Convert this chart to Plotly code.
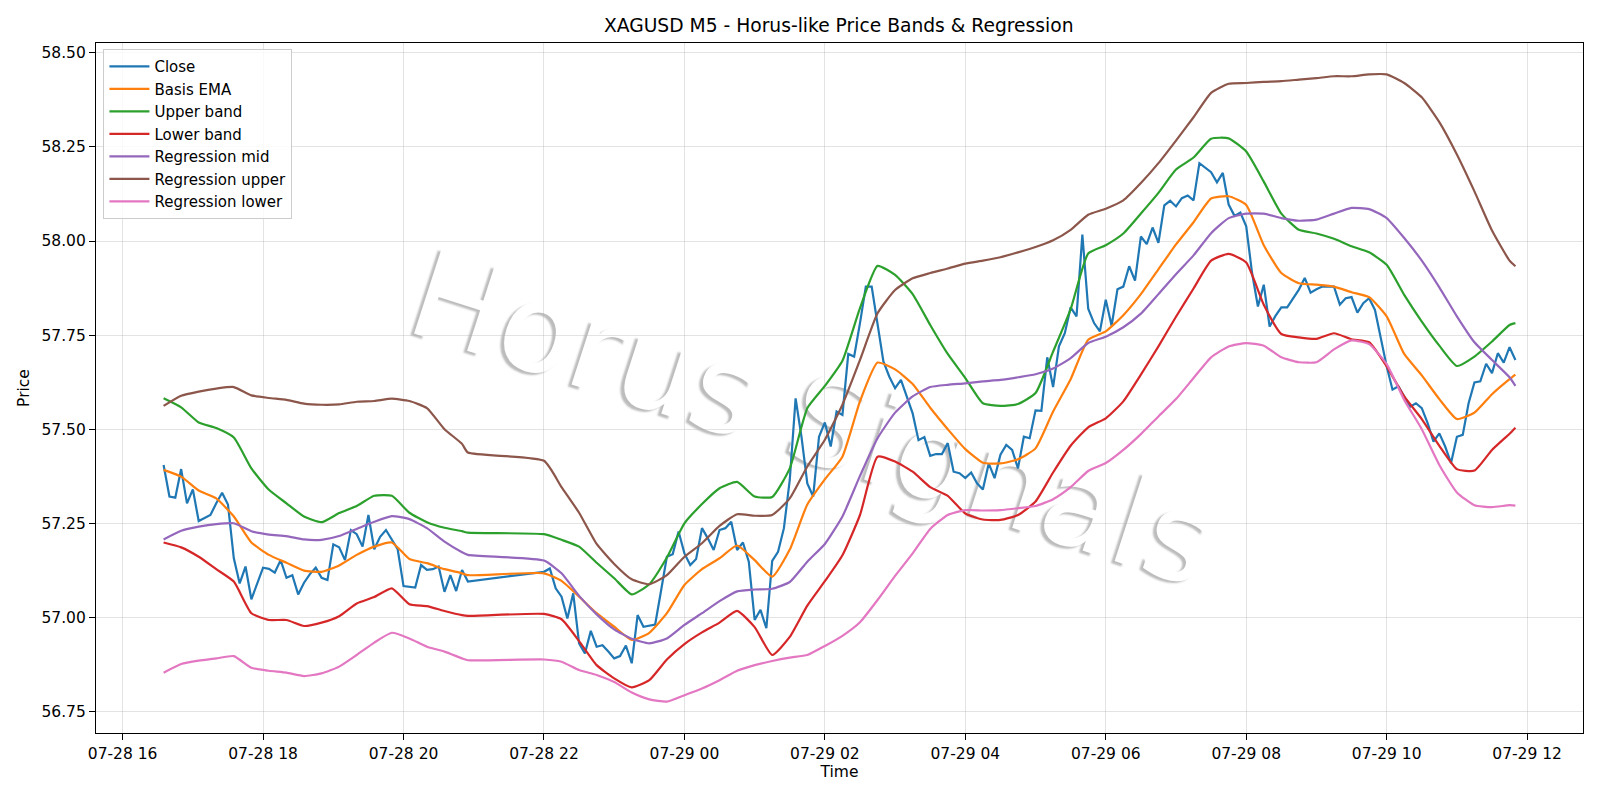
import math
import pandas as pd
import plotly.graph_objects as go

# ---------------- data ----------------
# Close, 5-minute bars: session 1 starts 07-28 16:35, session 2 starts 07-28 22:00
close_session1 = [
    57.405, 57.321, 57.318, 57.394, 57.303,
    57.340, 57.256, 57.263, 57.272, 57.303, 57.331, 57.300, 57.157, 57.090, 57.135, 57.048, 57.090,
    57.132, 57.129, 57.119, 57.152, 57.105, 57.112, 57.061, 57.092, 57.115, 57.132, 57.105, 57.099,
    57.194, 57.186, 57.152, 57.232, 57.221, 57.188, 57.272, 57.181, 57.214, 57.232, 57.207, 57.181,
    57.083, 57.081, 57.079, 57.139, 57.126, 57.128, 57.135, 57.068, 57.112, 57.070, 57.126, 57.095,
]
close_session2 = [
    57.121, 57.130, 57.077, 57.055, 56.997, 57.064, 56.931, 56.904, 56.964, 56.922, 56.926, 56.909,
    56.891, 56.897, 56.925, 56.878, 57.006, 56.975, 56.978, 56.981, 57.070, 57.161, 57.168, 57.228,
    57.170, 57.139, 57.155, 57.237, 57.210, 57.179, 57.232, 57.237, 57.254, 57.179, 57.199, 57.148,
    56.993, 57.020, 56.971, 57.150, 57.174, 57.237, 57.365, 57.582, 57.480, 57.356, 57.321, 57.480,
    57.518, 57.454, 57.547, 57.538, 57.700, 57.693, 57.782, 57.879, 57.879, 57.782, 57.680, 57.640,
    57.609, 57.631, 57.587, 57.542, 57.471, 57.479, 57.429, 57.434, 57.434, 57.463, 57.387, 57.383,
    57.370, 57.385, 57.356, 57.340, 57.409, 57.370, 57.432, 57.458, 57.445, 57.396, 57.480, 57.476,
    57.550, 57.549, 57.691, 57.612, 57.720, 57.755, 57.824, 57.800, 58.017, 57.820, 57.782, 57.760,
    57.844, 57.775, 57.872, 57.879, 57.933, 57.895, 58.012, 57.992, 58.036, 57.995, 58.095, 58.107,
    58.092, 58.114, 58.121, 58.108, 58.207, 58.194, 58.183, 58.156, 58.181, 58.097, 58.067, 58.076,
    58.039, 57.915, 57.826, 57.884, 57.773, 57.801, 57.824, 57.824, 57.846, 57.871, 57.902, 57.863,
    57.872, 57.879, 57.879, 57.879, 57.831, 57.848, 57.851, 57.810, 57.835, 57.848, 57.817, 57.738,
    57.667, 57.605, 57.614, 57.587, 57.560, 57.569, 57.556, 57.516, 57.467, 57.489, 57.454, 57.410,
    57.480, 57.485, 57.569, 57.624, 57.627, 57.674, 57.649, 57.702, 57.677, 57.718, 57.684,
]

# Smooth series sampled every 15 minutes (session 1: 16:35..20:50 + 20:55; session 2: 22:00..11:45 + 11:50)
basis_ema = [
    57.392, 57.374, 57.337, 57.316, 57.268, 57.199, 57.166, 57.145, 57.124, 57.121,
    57.138, 57.166, 57.188, 57.199, 57.155, 57.144, 57.128, 57.117, 57.112,
    57.117, 57.097, 57.055, 57.011,
    56.975, 56.940, 56.959, 57.011,
    57.086, 57.128, 57.157, 57.191,
    57.152, 57.108, 57.180, 57.300,
    57.367, 57.427, 57.574, 57.677,
    57.659, 57.620, 57.557, 57.500,
    57.447, 57.411, 57.409, 57.420,
    57.449, 57.547, 57.633, 57.738,
    57.760, 57.803, 57.859, 57.925,
    57.991, 58.050, 58.113, 58.119,
    58.096, 57.989, 57.915, 57.888,
    57.884, 57.879, 57.864, 57.851,
    57.800, 57.700, 57.643, 57.580,
    57.527, 57.544, 57.593, 57.633,
    57.645,
]
upper_band = [
    57.582, 57.558, 57.518, 57.503, 57.478, 57.396, 57.339, 57.303, 57.268, 57.253,
    57.277, 57.296, 57.323, 57.323, 57.278, 57.253, 57.238, 57.229, 57.225,
    57.221, 57.206, 57.188, 57.145,
    57.104, 57.061, 57.088, 57.159,
    57.250, 57.301, 57.343, 57.360,
    57.321, 57.320, 57.396, 57.556,
    57.615, 57.682, 57.822, 57.934,
    57.910, 57.859, 57.777, 57.700,
    57.636, 57.569, 57.562, 57.567,
    57.596, 57.706, 57.819, 57.967,
    57.989, 58.020, 58.073, 58.128,
    58.190, 58.222, 58.272, 58.273,
    58.238, 58.158, 58.073, 58.030,
    58.020, 58.006, 57.986, 57.970,
    57.937, 57.857, 57.786, 57.722,
    57.668, 57.693, 57.733, 57.777,
    57.782,
]
lower_band = [
    57.199, 57.186, 57.161, 57.128, 57.095, 57.011, 56.993, 56.993, 56.977, 56.986,
    57.003, 57.037, 57.054, 57.077, 57.035, 57.030, 57.017, 57.006, 57.004,
    57.009, 56.995, 56.937, 56.873,
    56.838, 56.814, 56.833, 56.888,
    56.929, 56.960, 56.986, 57.017,
    56.974, 56.900, 56.948, 57.031,
    57.096, 57.165, 57.272, 57.427,
    57.414, 57.387, 57.346, 57.323,
    57.276, 57.260, 57.259, 57.272,
    57.308, 57.385, 57.456, 57.505,
    57.529, 57.574, 57.645, 57.720,
    57.799, 57.874, 57.948, 57.966,
    57.943, 57.831, 57.753, 57.744,
    57.740, 57.755, 57.739, 57.731,
    57.667, 57.587, 57.527, 57.456,
    57.394, 57.390, 57.445, 57.488,
    57.504,
]
regression_mid = [
    57.207, 57.230, 57.241, 57.248, 57.250, 57.229, 57.220, 57.216, 57.207, 57.206,
    57.216, 57.235, 57.254, 57.269, 57.261, 57.237, 57.201, 57.173, 57.166,
    57.151, 57.117, 57.057, 57.008,
    56.968, 56.943, 56.931, 56.944,
    56.980, 57.011, 57.043, 57.069,
    57.074, 57.076, 57.094, 57.148,
    57.195, 57.268, 57.376, 57.476,
    57.544, 57.587, 57.612, 57.618,
    57.622, 57.627, 57.631, 57.638,
    57.646, 57.661, 57.689, 57.729,
    57.746, 57.771, 57.807, 57.859,
    57.912, 57.962, 58.021, 58.061,
    58.073, 58.073, 58.061, 58.054,
    58.057, 58.073, 58.088, 58.085,
    58.061, 58.008, 57.948, 57.877,
    57.800, 57.731, 57.684, 57.638,
    57.615,
]
regression_upper = [
    57.562, 57.589, 57.600, 57.608, 57.612, 57.590, 57.583, 57.578, 57.568, 57.565,
    57.566, 57.573, 57.575, 57.581, 57.575, 57.556, 57.500, 57.461, 57.438,
    57.416, 57.346, 57.278, 57.195,
    57.142, 57.101, 57.088, 57.112,
    57.161, 57.197, 57.243, 57.274,
    57.270, 57.272, 57.316, 57.401,
    57.472, 57.565, 57.684, 57.808,
    57.870, 57.901, 57.915, 57.927,
    57.940, 57.948, 57.957, 57.970,
    57.984, 58.002, 58.030, 58.070,
    58.086, 58.108, 58.154, 58.207,
    58.267, 58.329, 58.394, 58.418,
    58.420, 58.423, 58.425, 58.429,
    58.433, 58.438, 58.438, 58.443,
    58.443, 58.420, 58.382, 58.316,
    58.230, 58.132, 58.028, 57.948,
    57.933,
]
regression_lower = [
    56.853, 56.876, 56.885, 56.891, 56.897, 56.866, 56.858, 56.853, 56.844, 56.851,
    56.869, 56.900, 56.933, 56.959, 56.944, 56.922, 56.909, 56.891, 56.886,
    56.888, 56.882, 56.860, 56.847,
    56.828, 56.800, 56.782, 56.776,
    56.793, 56.811, 56.833, 56.858,
    56.873, 56.884, 56.893, 56.900,
    56.924, 56.951, 56.987, 57.046,
    57.110, 57.170, 57.235, 57.272,
    57.285, 57.284, 57.285, 57.290,
    57.296, 57.314, 57.346, 57.389,
    57.410, 57.445, 57.487, 57.534,
    57.580, 57.636, 57.691, 57.720,
    57.729, 57.722, 57.691, 57.678,
    57.678, 57.712, 57.736, 57.726,
    57.673, 57.578, 57.500, 57.405,
    57.332, 57.298, 57.293, 57.298,
    57.297,
]

series_names = ["Close", "Basis EMA", "Upper band", "Lower band",
                "Regression mid", "Regression upper", "Regression lower"]
tick_format = "%m-%d %H"
watermark_text = "Horus Signals"

# ---------------- timestamps ----------------
close_time = list(pd.date_range("2025-07-28 16:35", periods=len(close_session1), freq="5min")) + \
             list(pd.date_range("2025-07-28 22:00", periods=len(close_session2), freq="5min"))
close_values = close_session1 + close_session2

smooth_time = list(pd.date_range("2025-07-28 16:35", "2025-07-28 20:50", freq="15min")) + \
              [pd.Timestamp("2025-07-28 20:55")] + \
              list(pd.date_range("2025-07-28 22:00", "2025-07-29 11:45", freq="15min")) + \
              [pd.Timestamp("2025-07-29 11:50")]

smooth_series = [basis_ema, upper_band, lower_band, regression_mid, regression_upper, regression_lower]
for s in smooth_series:
    assert len(s) == len(smooth_time), (len(s), len(smooth_time))

colors = ["#1f77b4", "#ff7f0e", "#2ca02c", "#d62728", "#9467bd", "#8c564b", "#e377c2"]
FONT = "DejaVu Sans, Verdana, sans-serif"
BASE = 15.5

fig = go.Figure()
all_x = [close_time] + [smooth_time] * 6
all_y = [close_values] + smooth_series
for i, (name, xs, ys) in enumerate(zip(series_names, all_x, all_y)):
    line = dict(color=colors[i], width=2.2)
    if i > 0:
        line.update(shape="spline", smoothing=0.5)
    fig.add_trace(go.Scatter(x=xs, y=ys, mode="lines", name=name, line=line))

# axis ranges (matplotlib-style 5% margins)
t_first, t_last = close_time[0], close_time[-1]
span = t_last - t_first
x_range = [t_first - span * 0.05, t_last + span * 0.05]
all_vals = [v for s in all_y for v in s]
vmin, vmax = min(all_vals), max(all_vals)
pad = (vmax - vmin) * 0.05
y_range = [vmin - pad, vmax + pad]

grid_color = "rgba(176,176,176,0.35)"
fig.update_layout(
    width=1600, height=800,
    paper_bgcolor="white", plot_bgcolor="white",
    margin=dict(l=96, r=17, t=43, b=67),
    font=dict(family=FONT, size=BASE, color="black"),
    title=dict(text="XAGUSD M5 - Horus-like Price Bands & Regression",
               x=0.5242, xanchor="center", y=0.968, yanchor="middle",
               font=dict(size=18.7, family=FONT, color="black")),
    showlegend=True,
    legend=dict(x=0.005, y=0.991, xanchor="left", yanchor="top",
                bgcolor="rgba(255,255,255,0.8)", bordercolor="#cccccc", borderwidth=1,
                font=dict(size=15, family=FONT), itemwidth=40),
    xaxis=dict(type="date", range=x_range, tickformat=tick_format,
               dtick=2 * 3600 * 1000, tick0="2025-07-28 16:00",
               showgrid=True, gridcolor=grid_color, gridwidth=1,
               showline=True, linecolor="black", linewidth=1.2, mirror=True,
               ticks="outside", ticklen=6, tickcolor="black", tickwidth=1.2,
               tickfont=dict(size=BASE), zeroline=False,
               title=dict(text="Time", font=dict(size=BASE), standoff=4)),
    yaxis=dict(range=y_range, tickformat=".2f", dtick=0.25, tick0=56.75,
               showgrid=True, gridcolor=grid_color, gridwidth=1,
               showline=True, linecolor="black", linewidth=1.2, mirror=True,
               ticks="outside", ticklen=6, tickcolor="black", tickwidth=1.2,
               tickfont=dict(size=BASE), zeroline=False,
               title=dict(text="Price", font=dict(size=BASE), standoff=7)),
)

# watermark: a transparent line shape between grid and traces, carrying the rotated label
L, T, W, H = 95.7, 42.7, 1487.0, 690.3   # plot area in pixels
angle_deg = 18.0
cx, cy, half = 815.0, 410.0, 330.0
ang = math.radians(angle_deg)
x0p, y0p = cx - half * math.cos(ang), cy - half * math.sin(ang)
x1p, y1p = cx + half * math.cos(ang), cy + half * math.sin(ang)
fig.add_shape(
    type="line", xref="paper", yref="paper", layer="between",
    x0=(x0p - L) / W, y0=1 - (y0p - T) / H, x1=(x1p - L) / W, y1=1 - (y1p - T) / H,
    line=dict(width=1, color="rgba(0,0,0,0)"),
    label=dict(text=watermark_text, textposition="middle", textangle=angle_deg,
               yanchor="middle", padding=0,
               font=dict(family=FONT, size=122, color="white",
                         shadow="-3px 3px 2px #bcbcbc")),
)

fig.write_html("out.html")
